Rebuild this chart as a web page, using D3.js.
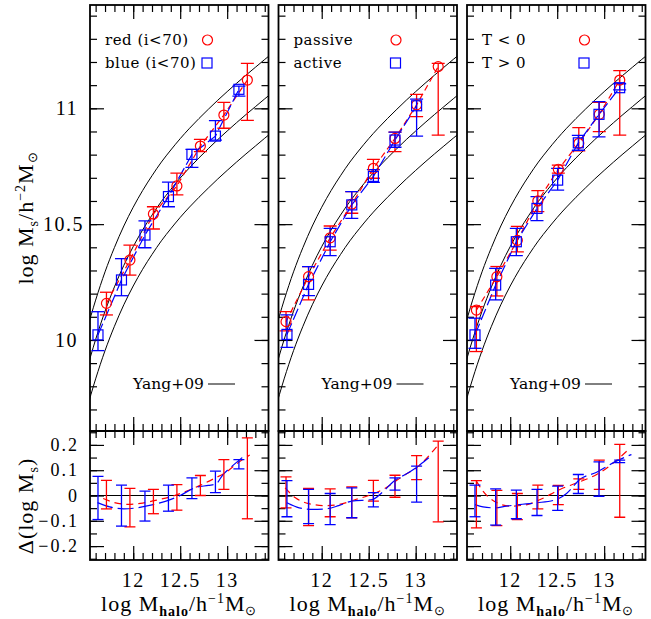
<!DOCTYPE html>
<html><head><meta charset="utf-8">
<script src="https://cdn.jsdelivr.net/npm/d3@7"></script>
<style>body{margin:0;background:#fff}svg{display:block}</style>
</head><body><svg id="c" width="651" height="619"></svg>
<script>
// ---------------- data ----------------
const xTickValues = [12, 12.5, 13];
const xTickLabels = ["12", "12.5", "13"];
const yTickValues = [10, 10.5, 11];
const yTickLabels = ["10", "10.5", "11"];
const dTickValues = [-0.2, -0.1, 0, 0.1, 0.2];
const dTickLabels = ["\u22120.2", "\u22120.1", "0", "0.1", "0.2"];

const legendRed = ["red (i<70)", "passive", "T < 0"];
const legendBlue = ["blue (i<70)", "active", "T > 0"];

// Yang+09 relation (middle) and its scatter envelope
const yangX   = [11.5,11.6,11.7,11.8,11.9,12.0,12.1,12.2,12.3,12.4,12.5,12.6,12.7,12.8,12.9,13.0,13.1,13.2,13.3,13.4,13.5];
const yangMid = [9.864,10.002,10.124,10.229,10.322,10.403,10.475,10.539,10.598,10.650,10.699,10.744,10.786,10.826,10.865,10.902,10.938,10.973,11.007,11.041,11.074];
const yangHi  = [10.034,10.172,10.294,10.399,10.492,10.573,10.645,10.709,10.768,10.820,10.869,10.914,10.956,10.996,11.035,11.072,11.108,11.143,11.177,11.211,11.244];
const yangLo  = [9.694,9.832,9.954,10.059,10.152,10.233,10.305,10.369,10.428,10.480,10.529,10.574,10.616,10.656,10.695,10.732,10.768,10.803,10.837,10.871,10.904];

// panel 1
const blueX1 = [11.625,11.875,12.125,12.375,12.625,12.875,13.125];
const blueY1 = [10.022,10.259,10.453,10.619,10.801,10.880,11.082];
const blueLo1 = [9.954,10.191,10.398,10.575,10.745,10.863,11.053];
const blueHi1 = [10.122,10.351,10.514,10.681,10.823,10.947,11.096];
const redX1 = [11.715,11.965,12.215,12.465,12.715,12.965,13.215];
const redY1 = [10.158,10.345,10.544,10.665,10.837,10.971,11.122];
const redLo1 = [10.108,10.280,10.479,10.626,10.813,10.914,10.948];
const redHi1 = [10.206,10.409,10.575,10.720,10.866,11.026,11.194];
const blueDLo1 = [-0.095,-0.121,-0.101,-0.062,-0.012,0.011,0.105];
const blueDHi1 = [0.076,0.041,0.017,0.041,0.070,0.096,0.142];
const redDLo1 = [-0.053,-0.124,-0.072,-0.058,0.000,0.024,-0.092];
const redDHi1 = [0.060,0.028,0.024,0.043,0.079,0.142,0.228];
const blueCX1 = [11.62,11.75,11.9,12.05,12.2,12.35,12.5,12.65,12.8,12.88,12.95,13.05,13.16];
const blueCY1 = [-0.028,-0.045,-0.053,-0.048,-0.037,-0.022,0.0,0.03,0.04,0.045,0.08,0.115,0.15];
const redCX1 = [11.68,11.8,11.95,12.1,12.25,12.4,12.55,12.7,12.85,13.0,13.1,13.24];
const redCY1 = [-0.012,-0.028,-0.035,-0.03,-0.018,-0.005,0.015,0.038,0.065,0.095,0.125,0.16];

// panel 2
const blueX2 = [11.63,11.86,12.09,12.32,12.55,12.78,13.01];
const blueY2 = [10.024,10.240,10.424,10.583,10.706,10.863,11.011];
const blueLo2 = [9.968,10.191,10.364,10.525,10.680,10.832,10.880];
const blueHi2 = [10.108,10.317,10.482,10.640,10.735,10.897,11.040];
const redX2 = [11.62,11.86,12.09,12.32,12.55,12.78,13.01,13.24];
const redY2 = [10.079,10.273,10.441,10.586,10.741,10.870,11.015,11.180];
const redLo2 = [10.039,10.173,10.388,10.547,10.698,10.813,10.964,10.884];
const redHi2 = [10.122,10.317,10.492,10.640,10.780,10.897,11.060,11.194];
const blueDLo2 = [-0.084,-0.111,-0.115,-0.088,-0.045,0.021,-0.026];
const blueDHi2 = [0.059,0.024,0.008,0.030,0.011,0.070,0.116];
const redDLo2 = [-0.049,-0.119,-0.084,-0.088,-0.022,-0.007,0.063,-0.104];
const redDHi2 = [0.074,0.028,0.026,0.034,0.060,0.080,0.158,0.215];
const blueCX2 = [11.63,11.76,11.9,12.04,12.18,12.32,12.54,12.64,12.79,12.89,13.0,13.14];
const blueCY2 = [-0.029,-0.049,-0.055,-0.053,-0.04,-0.022,-0.016,0.011,0.063,0.083,0.109,0.149];
const redCX2 = [11.61,11.72,11.86,12.04,12.18,12.36,12.5,12.68,12.86,13.03,13.25];
const redCY2 = [0.03,-0.009,-0.032,-0.04,-0.036,-0.016,0.0,0.03,0.076,0.116,0.205];

// panel 3
const blueX3 = [11.625,11.845,12.065,12.285,12.505,12.725,12.945,13.165];
const blueY3 = [10.022,10.237,10.424,10.568,10.690,10.851,10.974,11.089];
const blueLo3 = [9.964,10.173,10.364,10.515,10.647,10.819,10.877,11.080];
const blueHi3 = [10.094,10.309,10.482,10.619,10.741,10.883,11.029,11.106];
const redX3 = [11.64,11.858,12.076,12.294,12.512,12.73,12.948,13.166];
const redY3 = [10.129,10.273,10.430,10.600,10.737,10.849,10.974,11.122];
const redLo3 = [9.950,10.190,10.380,10.554,10.720,10.816,10.899,10.884];
const redHi3 = [10.144,10.317,10.490,10.645,10.755,10.917,11.026,11.163];
const blueDLo3 = [-0.084,-0.117,-0.092,-0.079,-0.059,0.008,-0.003,0.130];
const blueDHi3 = [0.041,0.026,0.021,0.024,0.037,0.083,0.133,0.140];
const redDLo3 = [-0.128,-0.119,-0.095,-0.053,-0.036,0.024,0.024,-0.086];
const redDHi3 = [0.059,0.020,0.008,0.041,0.040,0.066,0.140,0.202];
const blueCX3 = [11.625,11.71,11.84,11.96,12.1,12.28,12.49,12.6,12.74,12.92,13.13,13.29];
const blueCY3 = [-0.036,-0.045,-0.049,-0.042,-0.036,-0.029,-0.016,0.008,0.063,0.092,0.136,0.162];
const redCX3 = [11.64,11.71,11.86,12.0,12.18,12.32,12.53,12.71,12.92,13.1,13.24];
const redCY3 = [0.057,0.017,-0.029,-0.042,-0.036,-0.016,0.024,0.05,0.083,0.129,0.175];

const panels = [
  {bx:blueX1,by:blueY1,blo:blueLo1,bhi:blueHi1,rx:redX1,ry:redY1,rlo:redLo1,rhi:redHi1,
   bdlo:blueDLo1,bdhi:blueDHi1,rdlo:redDLo1,rdhi:redDHi1,bcx:blueCX1,bcy:blueCY1,rcx:redCX1,rcy:redCY1},
  {bx:blueX2,by:blueY2,blo:blueLo2,bhi:blueHi2,rx:redX2,ry:redY2,rlo:redLo2,rhi:redHi2,
   bdlo:blueDLo2,bdhi:blueDHi2,rdlo:redDLo2,rdhi:redDHi2,bcx:blueCX2,bcy:blueCY2,rcx:redCX2,rcy:redCY2},
  {bx:blueX3,by:blueY3,blo:blueLo3,bhi:blueHi3,rx:redX3,ry:redY3,rlo:redLo3,rhi:redHi3,
   bdlo:blueDLo3,bdhi:blueDHi3,rdlo:redDLo3,rdhi:redDHi3,bcx:blueCX3,bcy:blueCY3,rcx:redCX3,rcy:redCY3}
];

// ---------------- layout ----------------
const RED = "#ff0000", BLUE = "#0000ff";
const PW = 178.5, lefts = [90, 278.5, 467];
const UT = 5, UB = 431, LT = 431, LB = 560;
const SERIF = "'Liberation Serif', 'Times New Roman', serif";
const SERIF2 = "'DejaVu Serif', serif";

const svg = d3.select("#c");
const yU = d3.scaleLinear().domain([9.607, 11.446]).range([UB, UT]);
const yL = d3.scaleLinear().domain([-0.255, 0.255]).range([LB, LT]);

const xMinor = d3.range(11.6, 13.41, 0.1);
const yMinor = d3.range(9.7, 11.45, 0.1);
const dMinor = d3.range(-0.25, 0.251, 0.05);

function tickAxis(g, axis, transform) {
  g.append("g").attr("transform", transform).call(axis)
    .call(a => a.select(".domain").remove())
    .call(a => a.selectAll("line").attr("stroke", "#000").attr("stroke-width", 1.2));
}

const defs = svg.append("defs");

panels.forEach((p, i) => {
  const L = lefts[i], R = L + PW;
  const x = d3.scaleLinear().domain([11.54, 13.44]).range([L, R]);
  const g = svg.append("g");

  defs.append("clipPath").attr("id", "cu" + i).append("rect").attr("x", L).attr("y", UT).attr("width", PW).attr("height", UB - UT);
  defs.append("clipPath").attr("id", "cl" + i).append("rect").attr("x", L).attr("y", LT).attr("width", PW).attr("height", LB - LT);

  // ---- ticks (upper) ----
  [[xMinor, 7], [xTickValues, 14]].forEach(([v, s]) => {
    tickAxis(g, d3.axisBottom(x).tickValues(v).tickSize(-s).tickFormat(""), `translate(0,${UB})`);
    tickAxis(g, d3.axisTop(x).tickValues(v).tickSize(-s).tickFormat(""), `translate(0,${UT})`);
    tickAxis(g, d3.axisBottom(x).tickValues(v).tickSize(-s).tickFormat(""), `translate(0,${LB})`);
    tickAxis(g, d3.axisTop(x).tickValues(v).tickSize(-s).tickFormat(""), `translate(0,${LT})`);
  });
  [[yMinor, 7], [yTickValues, 14]].forEach(([v, s]) => {
    tickAxis(g, d3.axisLeft(yU).tickValues(v).tickSize(-s).tickFormat(""), `translate(${L},0)`);
    tickAxis(g, d3.axisRight(yU).tickValues(v).tickSize(-s).tickFormat(""), `translate(${R},0)`);
  });
  [[dMinor, 7], [dTickValues, 14]].forEach(([v, s]) => {
    tickAxis(g, d3.axisLeft(yL).tickValues(v).tickSize(-s).tickFormat(""), `translate(${L},0)`);
    tickAxis(g, d3.axisRight(yL).tickValues(v).tickSize(-s).tickFormat(""), `translate(${R},0)`);
  });

  // ---- Yang+09 curves ----
  const cu = g.append("g").attr("clip-path", `url(#cu${i})`);
  const yangLine = d3.line().x(d => x(d[0])).y(d => yU(d[1])).curve(d3.curveMonotoneX);
  [yangHi, yangMid, yangLo].forEach(arr => {
    cu.append("path").datum(yangX.map((v, k) => [v, arr[k]]))
      .attr("d", yangLine).attr("fill", "none").attr("stroke", "#000").attr("stroke-width", 1);
  });

  // ---- dashed lines through points ----
  const ptLine = d3.line().x(d => x(d[0])).y(d => yU(d[1]));
  cu.append("path").datum(p.rx.map((v, k) => [v, p.ry[k]])).attr("d", ptLine)
    .attr("fill", "none").attr("stroke", RED).attr("stroke-width", 1.2).attr("stroke-dasharray", "6,4");
  cu.append("path").datum(p.bx.map((v, k) => [v, p.by[k]])).attr("d", ptLine)
    .attr("fill", "none").attr("stroke", BLUE).attr("stroke-width", 1.2).attr("stroke-dasharray", "12,4");

  function errbars(sel, xs, lo, hi, ys, color, cap) {
    xs.forEach((xv, k) => {
      const px = x(xv);
      sel.append("line").attr("x1", px).attr("x2", px).attr("y1", ys(lo[k])).attr("y2", ys(hi[k]))
        .attr("stroke", color).attr("stroke-width", 1.3);
      [lo[k], hi[k]].forEach(v => sel.append("line").attr("x1", px - cap).attr("x2", px + cap)
        .attr("y1", ys(v)).attr("y2", ys(v)).attr("stroke", color).attr("stroke-width", 1.3));
    });
  }
  errbars(cu, p.rx, p.rlo, p.rhi, yU, RED, 6.5);
  errbars(cu, p.bx, p.blo, p.bhi, yU, BLUE, 6.5);

  p.rx.forEach((xv, k) => cu.append("circle").attr("cx", x(xv)).attr("cy", yU(p.ry[k])).attr("r", 5)
    .attr("fill", "none").attr("stroke", RED).attr("stroke-width", 1.2));
  p.bx.forEach((xv, k) => cu.append("rect").attr("x", x(xv) - 5).attr("y", yU(p.by[k]) - 5)
    .attr("width", 10).attr("height", 10).attr("fill", "none").attr("stroke", BLUE).attr("stroke-width", 1.2));

  // ---- legend ----
  g.append("text").attr("x", L + 15).attr("y", 45).text(legendRed[i])
    .attr("font-family", SERIF2).attr("font-size", 15).attr("letter-spacing", 0.5);
  g.append("text").attr("x", L + 15).attr("y", 68).text(legendBlue[i])
    .attr("font-family", SERIF2).attr("font-size", 15).attr("letter-spacing", 0.5);
  g.append("circle").attr("cx", L + 117.5).attr("cy", 40).attr("r", 5)
    .attr("fill", "none").attr("stroke", RED).attr("stroke-width", 1.2);
  g.append("rect").attr("x", L + 112).attr("y", 58).attr("width", 10).attr("height", 10)
    .attr("fill", "none").attr("stroke", BLUE).attr("stroke-width", 1.2);

  g.append("text").attr("x", L + 43).attr("y", 389).text("Yang+09")
    .attr("font-family", SERIF2).attr("font-size", 15.5);
  g.append("line").attr("x1", L + 118).attr("x2", L + 145).attr("y1", 384).attr("y2", 384)
    .attr("stroke", "#000").attr("stroke-width", 1);

  // ---- lower panel ----
  const cl = g.append("g").attr("clip-path", `url(#cl${i})`);
  cl.append("line").attr("x1", L).attr("x2", R).attr("y1", yL(0)).attr("y2", yL(0))
    .attr("stroke", "#000").attr("stroke-width", 1.2);
  const dLine = d3.line().x(d => x(d[0])).y(d => yL(d[1])).curve(d3.curveMonotoneX);
  cl.append("path").datum(p.rcx.map((v, k) => [v, p.rcy[k]])).attr("d", dLine)
    .attr("fill", "none").attr("stroke", RED).attr("stroke-width", 1.2).attr("stroke-dasharray", "7,5");
  cl.append("path").datum(p.bcx.map((v, k) => [v, p.bcy[k]])).attr("d", dLine)
    .attr("fill", "none").attr("stroke", BLUE).attr("stroke-width", 1.2).attr("stroke-dasharray", "16,5");
  errbars(cl, p.rx, p.rdlo, p.rdhi, yL, RED, 5.5);
  errbars(cl, p.bx, p.bdlo, p.bdhi, yL, BLUE, 5.5);

  // ---- frames ----
  g.append("rect").attr("x", L).attr("y", UT).attr("width", PW).attr("height", UB - UT)
    .attr("fill", "none").attr("stroke", "#000").attr("stroke-width", 1.8);
  g.append("rect").attr("x", L).attr("y", LT).attr("width", PW).attr("height", LB - LT)
    .attr("fill", "none").attr("stroke", "#000").attr("stroke-width", 1.8);

  // ---- x tick labels ----
  xTickValues.forEach((v, k) => g.append("text").attr("x", x(v)).attr("y", 587)
    .attr("text-anchor", "middle").attr("font-family", SERIF).attr("font-size", 20)
    .attr("letter-spacing", 1.5).text(xTickLabels[k]));

  // ---- x title ----
  const xt = g.append("text").attr("x", L + PW / 2).attr("y", 611).attr("text-anchor", "middle")
    .attr("font-family", SERIF).attr("font-size", 22).attr("letter-spacing", 1);
  xt.append("tspan").text("log M");
  xt.append("tspan").attr("dy", 5).attr("font-size", 14).attr("font-weight", "bold").text("halo");
  xt.append("tspan").attr("dy", -5).text("/h");
  xt.append("tspan").attr("dy", -8).attr("font-size", 14).text("\u22121");
  xt.append("tspan").attr("dy", 8).text("M");
  xt.append("tspan").attr("dy", 4).attr("font-size", 13).text("\u2299");
});

// ---- y tick labels (panel 1 only) ----
yTickValues.forEach((v, k) => svg.append("text").attr("x", yTickLabels[k].includes(".") ? 84 : 78)
  .attr("y", yU(v) + 7).attr("text-anchor", "end").attr("font-family", SERIF).attr("font-size", 20)
  .attr("letter-spacing", 1.5).text(yTickLabels[k]));
dTickValues.forEach((v, k) => svg.append("text").attr("x", 79)
  .attr("y", yL(v) + 6).attr("text-anchor", "end").attr("font-family", SERIF).attr("font-size", 18)
  .attr("letter-spacing", 2).text(dTickLabels[k]));

// ---- y titles ----
const yt = svg.append("text").attr("transform", "translate(33,218) rotate(-90)").attr("text-anchor", "middle")
  .attr("font-family", SERIF).attr("font-size", 22).attr("letter-spacing", 1);
yt.append("tspan").text("log M");
yt.append("tspan").attr("dy", 5).attr("font-size", 14).text("s");
yt.append("tspan").attr("dy", -5).text("/h");
yt.append("tspan").attr("dy", -8).attr("font-size", 14).text("\u22122");
yt.append("tspan").attr("dy", 8).text("M");
yt.append("tspan").attr("dy", 4).attr("font-size", 13).text("\u2299");

const dt = svg.append("text").attr("transform", "translate(33,506) rotate(-90)").attr("text-anchor", "middle")
  .attr("font-family", SERIF).attr("font-size", 22).attr("letter-spacing", 1);
dt.append("tspan").text("\u0394(log M");
dt.append("tspan").attr("dy", 5).attr("font-size", 14).text("s");
dt.append("tspan").attr("dy", -5).text(")");
</script></body></html>
